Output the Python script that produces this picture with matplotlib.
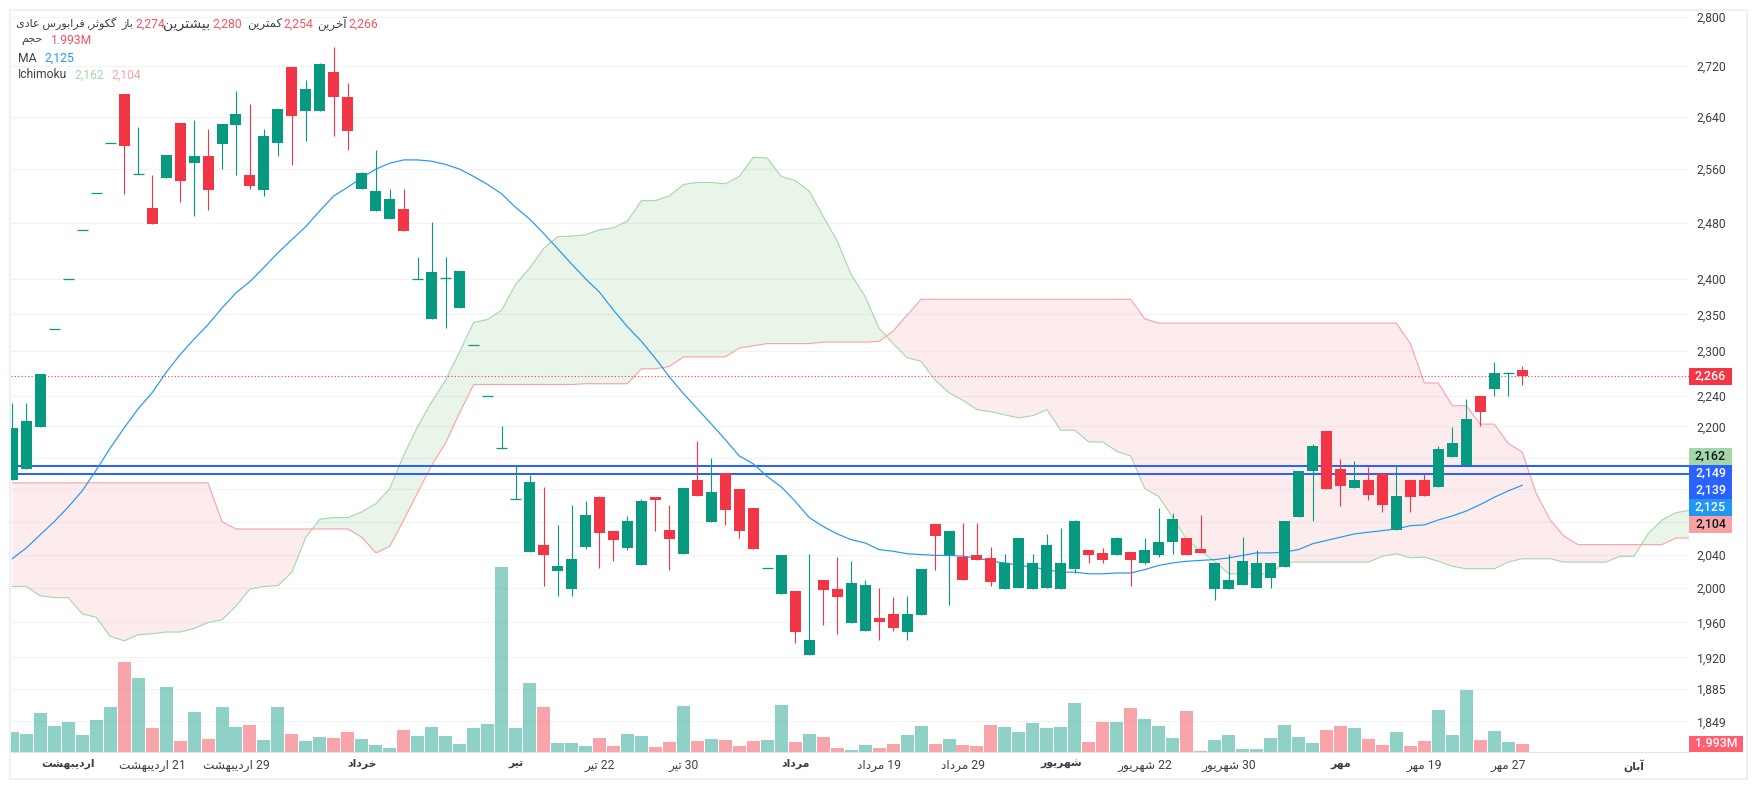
import matplotlib
matplotlib.use('Agg')
import matplotlib.pyplot as plt
from matplotlib.patches import Rectangle
from matplotlib.ticker import NullLocator, NullFormatter
import numpy as np

plt.rcParams['font.family'] = ['Roboto', 'DejaVu Sans']

# candles, oldest first
open_ = [2131, 2146, 2199, 2330, 2400, 2470, 2524, 2600, 2676, 2553, 2502, 2547, 2630, 2569, 2580, 2598,
         2627, 2551, 2529, 2600, 2719, 2649, 2649, 2711, 2671, 2530, 2498, 2486, 2501, 2399, 2344, 2401,
         2359, 2308, 2240, 2172, 2108, 2043, 2051, 2020, 1999, 2049, 2110, 2069, 2048, 2027, 2110, 2070,
         2041, 2131, 2080, 2141, 2120, 2097, 2024, 1993, 1997, 1923, 2010, 1999, 1959, 1950, 1965, 1970,
         1949, 1969, 2077, 2040, 2037, 2039, 2036, 1999, 2000, 1999, 2000, 1999, 2023, 2046, 2042, 2040,
         2043, 2030, 2039, 2055, 2060, 2047, 1999, 1999, 2004, 2000, 2012, 2025, 2086, 2143, 2194, 2146,
         2121, 2132, 2139, 2070, 2131, 2131, 2123, 2161, 2151, 2240, 2249, 2270, 2274]
high = [2230, 2230, 2269, 2330, 2400, 2470, 2524, 2600, 2676, 2624, 2551, 2581, 2630, 2635, 2621, 2629,
        2681, 2660, 2621, 2652, 2719, 2698, 2725, 2751, 2693, 2556, 2589, 2530, 2530, 2431, 2481, 2431,
        2411, 2308, 2240, 2201, 2149, 2138, 2123, 2076, 2100, 2106, 2111, 2069, 2087, 2108, 2110, 2101,
        2121, 2181, 2160, 2141, 2120, 2097, 2024, 2040, 1997, 2041, 2010, 2037, 2032, 2010, 2000, 1990,
        1991, 2023, 2077, 2069, 2078, 2078, 2049, 2041, 2060, 2041, 2065, 2072, 2082, 2046, 2048, 2061,
        2043, 2060, 2097, 2090, 2060, 2088, 2030, 2041, 2061, 2046, 2030, 2081, 2143, 2177, 2194, 2158,
        2156, 2148, 2139, 2151, 2131, 2139, 2175, 2199, 2236, 2240, 2285, 2271, 2280]
low = [2131, 2146, 2199, 2330, 2400, 2470, 2524, 2600, 2523, 2553, 2478, 2547, 2511, 2490, 2499, 2560,
       2551, 2530, 2520, 2580, 2566, 2603, 2649, 2611, 2589, 2530, 2498, 2486, 2468, 2399, 2344, 2331,
       2359, 2308, 2240, 2172, 2108, 2043, 2002, 1991, 1991, 2047, 2024, 2032, 2045, 2027, 2069, 2021,
       2041, 2112, 2080, 2076, 2060, 2047, 2024, 1993, 1936, 1923, 1957, 1947, 1959, 1950, 1940, 1950,
       1940, 1969, 2021, 1980, 2010, 2033, 2003, 1999, 2000, 1999, 2000, 1999, 2018, 2030, 2030, 2040,
       2002, 2029, 2037, 2041, 2040, 2042, 1986, 1999, 2004, 2000, 2000, 2025, 2086, 2081, 2120, 2099,
       2121, 2107, 2092, 2070, 2092, 2112, 2123, 2161, 2151, 2201, 2240, 2240, 2254]
close = [2198, 2207, 2269, 2330, 2400, 2470, 2524, 2600, 2595, 2553, 2478, 2581, 2542, 2580, 2529, 2629,
         2644, 2535, 2611, 2652, 2641, 2684, 2724, 2671, 2618, 2554, 2527, 2515, 2468, 2399, 2410, 2401,
         2411, 2308, 2240, 2172, 2108, 2129, 2040, 2026, 2035, 2088, 2066, 2058, 2081, 2106, 2107, 2059,
         2121, 2112, 2116, 2094, 2069, 2047, 2024, 2040, 1949, 1940, 1998, 1990, 2006, 2004, 1960, 1954,
         1970, 2023, 2063, 2069, 2010, 2033, 2007, 2030, 2060, 2030, 2051, 2030, 2081, 2040, 2034, 2060,
         2033, 2046, 2055, 2083, 2040, 2042, 2030, 2010, 2032, 2030, 2030, 2081, 2143, 2175, 2120, 2124,
         2131, 2113, 2100, 2111, 2110, 2112, 2171, 2179, 2209, 2219, 2270, 2270, 2266]

# volume in millions
volume = [4.98, 4.48, 9.71, 6.47, 7.47, 4.23, 7.97, 11.2, 22.41, 18.43, 5.98, 16.19, 2.74, 9.96, 3.24, 11.2,
          6.23, 6.72, 2.99, 11.2, 4.48, 2.74, 3.74, 3.49, 4.98, 3.24, 1.74, 1.0, 5.48, 3.98, 6.23, 3.98,
          1.99, 5.98, 6.97, 46.07, 5.98, 17.18, 11.2, 2.24, 2.24, 1.49, 3.49, 1.49, 4.48, 3.98, 1.25, 2.49,
          11.45, 2.74, 3.24, 2.99, 1.49, 2.74, 2.99, 11.7, 2.49, 4.48, 3.74, 1.0, 0.5, 1.74, 1.0, 1.99,
          4.23, 6.47, 1.99, 3.24, 1.74, 1.49, 6.72, 6.23, 4.98, 7.22, 5.98, 6.23, 12.2, 2.49, 7.47, 7.47,
          10.96, 8.22, 6.47, 3.49, 10.21, 0.25, 2.99, 4.23, 0.75, 0.75, 3.49, 6.72, 3.74, 2.24, 5.48, 6.47,
          5.98, 3.24, 1.74, 4.98, 1.49, 2.74, 10.46, 4.23, 15.44, 2.99, 5.23, 2.49, 1.993]

ma = [2035, 2048, 2064, 2080, 2098, 2118, 2144, 2172, 2198, 2223, 2244, 2271, 2295, 2316, 2336, 2359,
      2380, 2396, 2416, 2437, 2456, 2475, 2498, 2520, 2533, 2547, 2560, 2569, 2574, 2574, 2572, 2567,
      2560, 2549, 2537, 2523, 2503, 2486, 2465, 2443, 2421, 2400, 2381, 2356, 2333, 2313, 2290, 2265,
      2243, 2223, 2203, 2183, 2162, 2152, 2136, 2123, 2105, 2085, 2074, 2065, 2058, 2054, 2046, 2044,
      2041, 2040, 2039, 2039, 2038, 2036, 2032, 2030, 2027, 2025, 2022, 2019, 2019, 2017, 2017, 2018,
      2018, 2022, 2027, 2030, 2032, 2033, 2034, 2036, 2039, 2042, 2042, 2043, 2046, 2053, 2057, 2061,
      2065, 2067, 2069, 2071, 2075, 2076, 2082, 2087, 2093, 2101, 2110, 2118, 2125]

# ichimoku cloud, runs past the last candle
span_a = [2002, 2002, 1991, 1989, 1989, 1970, 1966, 1944, 1939, 1946, 1947, 1949, 1949, 1953, 1960, 1963,
          1979, 1999, 2002, 2003, 2019, 2061, 2083, 2085, 2085, 2092, 2102, 2121, 2163, 2200, 2232, 2261,
          2299, 2339, 2343, 2356, 2392, 2415, 2443, 2460, 2461, 2463, 2470, 2473, 2483, 2513, 2513, 2520,
          2537, 2540, 2540, 2538, 2549, 2578, 2577, 2549, 2543, 2527, 2490, 2454, 2406, 2375, 2331, 2310,
          2291, 2286, 2261, 2244, 2234, 2222, 2219, 2215, 2211, 2214, 2222, 2195, 2195, 2180, 2180, 2168,
          2162, 2121, 2111, 2085, 2058, 2044, 2032, 2017, 2017, 2017, 2017, 2031, 2031, 2031, 2031, 2031,
          2031, 2031, 2038, 2041, 2036, 2037, 2032, 2026, 2023, 2023, 2023, 2031, 2035, 2035, 2035, 2031,
          2031, 2031, 2031, 2038, 2038, 2065, 2082, 2091, 2094]
span_b = [2128, 2128, 2128, 2128, 2128, 2128, 2128, 2128, 2128, 2128, 2128, 2128, 2128, 2128, 2128, 2080,
          2071, 2071, 2071, 2071, 2071, 2071, 2071, 2071, 2071, 2061, 2042, 2050, 2082, 2116, 2150, 2179,
          2218, 2255, 2255, 2255, 2255, 2255, 2255, 2255, 2255, 2256, 2256, 2256, 2256, 2276, 2276, 2279,
          2292, 2292, 2292, 2292, 2304, 2307, 2310, 2310, 2310, 2310, 2312, 2312, 2312, 2312, 2313, 2327,
          2349, 2371, 2371, 2371, 2371, 2371, 2371, 2371, 2371, 2371, 2371, 2371, 2371, 2371, 2371, 2371,
          2371, 2344, 2338, 2338, 2338, 2338, 2338, 2338, 2338, 2338, 2338, 2338, 2338, 2338, 2338, 2338,
          2338, 2338, 2338, 2338, 2310, 2257, 2257, 2227, 2227, 2203, 2203, 2178, 2167, 2115, 2082, 2062,
          2052, 2052, 2052, 2052, 2052, 2052, 2052, 2060, 2060]

level_lines = [2149, 2139]
last_price = 2266

price_ticks = [2800, 2720, 2640, 2560, 2480, 2400, 2350, 2300, 2240, 2200, 2160, 2120, 2080, 2040, 2000,
               1960, 1920, 1885, 1849]
hidden_ticks = [2160, 2120, 2080]

date_pos = [4, 10, 16, 25, 36, 42, 48, 56, 62, 68, 75, 81, 87, 95, 101, 107, 116]
date_labels = ['اردیبهشت', '21 اردیبهشت', '29 اردیبهشت', 'خرداد', 'تیر', '22 تیر', '30 تیر', 'مرداد',
               '19 مرداد', '29 مرداد', 'شهریور', '22 شهریور', '30 شهریور', 'مهر', '19 مهر', '27 مهر', 'آبان']
bold_dates = ['اردیبهشت', 'خرداد', 'تیر', 'مرداد', 'شهریور', 'مهر', 'آبان']

GREEN = '#089981'
RED = '#f23645'
BLUE = '#2962ff'
MA_BLUE = '#2196f3'
CLOUD_GREEN = '#a5d6a7'
CLOUD_RED = '#faa1a4'
W, H = 1757, 790

# matplotlib does no arabic shaping, so pick the joined forms here
FORMS = {
    'ا': 'ﺍﺎ', 'آ': 'ﺁﺂ', 'د': 'ﺩﺪ', 'ر': 'ﺭﺮ', 'ز': 'ﺯﺰ', 'و': 'ﻭﻮ',
    'ب': 'ﺏﺐﺑﺒ', 'ت': 'ﺕﺖﺗﺘ', 'ث': 'ﺙﺚﺛﺜ', 'ج': 'ﺝﺞﺟﺠ', 'ح': 'ﺡﺢﺣﺤ',
    'خ': 'ﺥﺦﺧﺨ', 'ش': 'ﺵﺶﺷﺸ', 'ع': 'ﻉﻊﻋﻌ', 'ف': 'ﻑﻒﻓﻔ', 'م': 'ﻡﻢﻣﻤ',
    'ن': 'ﻥﻦﻧﻨ', 'ه': 'ﻩﻪﻫﻬ', 'ی': '\ufbfc\ufbfd\ufbfe\ufbff',
    'ک': '\ufb8e\ufb8f\ufb90\ufb91', 'گ': '\ufb92\ufb93\ufb94\ufb95',
}


def fa(text):
    words = []
    for word in text.split(' '):
        if not any(ch in FORMS for ch in word):
            words.append(word)
            continue
        shaped = ''
        for i, ch in enumerate(word):
            if ch not in FORMS:
                shaped += ch
                continue
            forms = FORMS[ch]
            before = i > 0 and word[i - 1] in FORMS and len(FORMS[word[i - 1]]) == 4
            after = i < len(word) - 1 and word[i + 1] in FORMS and len(forms) == 4
            if before and after:
                shaped += forms[3]
            elif after:
                shaped += forms[2]
            elif before:
                shaped += forms[1]
            else:
                shaped += forms[0]
        words.append(shaped[::-1])
    return ' '.join(words[::-1])


def put(x, y, text, color='#3c3f4a', ha='left', size=8.7, **kw):
    fig.text(x / W, 1 - y / H, text, color=color, ha=ha, va='center', fontsize=size, zorder=10, **kw)


def tag(y0, y1, x1, color, text, text_color):
    fig.add_artist(Rectangle((1689 / W, 1 - y1 / H), (x1 - 1689) / W, (y1 - y0) / H,
                             transform=fig.transFigure, color=color, lw=0, zorder=8))
    put((1689 + x1) / 2, (y0 + y1) / 2 - 0.5, text, color=text_color, ha='center', size=8.9, fontweight='medium')


fig = plt.figure(figsize=(W / 100, H / 100), dpi=100)
fig.patch.set_facecolor('white')
fig.add_artist(Rectangle((10 / W, 1 - 779 / H), 1737 / W, 769 / H, transform=fig.transFigure,
                         fill=False, ec='#eff0f4', lw=1.5, zorder=0))

vol_ax = fig.add_axes([11 / W, 1 - 752 / H, 1678 / W, 741 / H])
ax = vol_ax.twinx()
# volume sits over the price grid, the grid stays under its bars
ax.set_zorder(1)
vol_ax.set_zorder(2)
vol_ax.patch.set_visible(False)

x = np.arange(len(close))
up = [c >= o for o, c in zip(open_, close)]

# volume at the bottom, own linear scale
vol_ax.bar(x, volume, width=0.93, color=[GREEN if u else RED for u in up], alpha=0.45, lw=0)
vol_ax.set_ylim(0, 184.5)
vol_ax.set_yticks([])
vol_ax.set_xlim(-0.093, 119.93)
vol_ax.set_xticks(date_pos)
vol_ax.set_xticklabels([fa(d) for d in date_labels], fontsize=8.7, color='#3c3f4a')
for lab, d in zip(vol_ax.get_xticklabels(), date_labels):
    if d in bold_dates:
        lab.set_fontweight('bold')
        lab.set_fontsize(7.8)
vol_ax.tick_params(axis='x', length=0, pad=5)
for name in ['top', 'left', 'right']:
    vol_ax.spines[name].set_visible(False)
    ax.spines[name].set_visible(False)
vol_ax.spines['bottom'].set_color('#e0e3eb')
ax.spines['bottom'].set_visible(False)

ax.set_yscale('log')
ax.set_ylim(1816, 2810)
ax.set_xlim(-0.093, 119.93)
ax.yaxis.set_minor_locator(NullLocator())
ax.yaxis.set_minor_formatter(NullFormatter())
ax.set_yticks(price_ticks)
ax.set_yticklabels(['' if p in hidden_ticks else f'{p:,}' for p in price_ticks], fontsize=8.7, color='#3c3f4a')
ax.tick_params(axis='y', length=0, pad=5.6)
ax.grid(axis='y', color='#f2f3f6', lw=0.9)
ax.grid(axis='x', color='#eef0f3', lw=0.9)
ax.set_axisbelow(True)

# cloud
xc = np.arange(len(span_a))
a = np.array(span_a)
b = np.array(span_b)
ax.fill_between(xc, a, b, where=a >= b, interpolate=True, color='#4caf50', alpha=0.12, lw=0, zorder=1)
ax.fill_between(xc, a, b, where=a <= b, interpolate=True, color=RED, alpha=0.09, lw=0, zorder=1)
ax.plot(xc, a, color=CLOUD_GREEN, lw=0.8, zorder=1.5)
ax.plot(xc, b, color=CLOUD_RED, lw=0.8, zorder=1.5)

ax.axhline(last_price, color=RED, lw=0.8, ls=(0, (1, 2)), zorder=1.8)
for level in level_lines:
    ax.axhline(level, color=BLUE, lw=1.45, zorder=2)

# candles
colors = [GREEN if u else RED for u in up]
ax.vlines(x, low, high, colors=colors, lw=0.8, zorder=3)
ax.bar(x, np.array(close) - np.array(open_), bottom=open_, width=0.787, color=colors, lw=0, zorder=4)
flat = [i for i in x if open_[i] == close[i]]
ax.hlines([open_[i] for i in flat], [i - 0.39 for i in flat], [i + 0.39 for i in flat],
          colors=[colors[i] for i in flat], lw=0.9, zorder=4)

ax.plot(x, ma, color=MA_BLUE, lw=0.85, zorder=2.5)

# price tags on the axis
tag(368.3, 384.7, 1732, RED, '2,266', 'white')
tag(448, 465, 1732, CLOUD_GREEN, '2,162', '#131722')
tag(465, 482, 1732, BLUE, '2,149', 'white')
tag(482, 499, 1732, BLUE, '2,139', 'white')
tag(499, 516, 1732, MA_BLUE, '2,125', 'white')
tag(516, 533, 1732, CLOUD_RED, '2,104', '#131722')
tag(735.7, 752, 1743, '#ff5f6e', '1.993M', 'white')

# legend rows
put(116, 24, fa('گکوثر, فرابورس عادی'), ha='right', size=8.0)
put(133, 24, fa('باز'), ha='right', size=8.0)
put(135, 24, '2,274', color='#f7525f')
put(210, 24, fa('بیشترین'), ha='right', size=10)
put(212, 24, '2,280', color='#f7525f')
put(282, 24, fa('کمترین'), ha='right', size=8.6)
put(283, 24, '2,254', color='#f7525f')
put(347, 24, fa('آخرین'), ha='right', size=8.6)
put(348, 24, '2,266', color='#f7525f')
put(43, 41, fa('حجم'), ha='right', size=8.0)
put(51, 41, '1.993M', color='#f7525f')
put(18, 58, 'MA')
put(44, 58, '2,125', color=MA_BLUE)
put(18, 75, 'Ichimoku')
put(74, 75, '2,162', color=CLOUD_GREEN)
put(111, 75, '2,104', color=CLOUD_RED)

fig.savefig('out.png', dpi=100)
